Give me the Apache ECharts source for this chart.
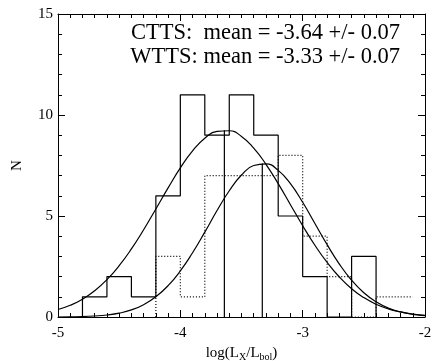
<!DOCTYPE html>
<html>
<head>
<meta charset="utf-8">
<script src="https://cdn.jsdelivr.net/npm/echarts@6/dist/echarts.min.js"></script>
<style>
  html, body { margin: 0; padding: 0; background: #fff; }
  #hist-chart { width: 432px; height: 361px; }
</style>
</head>
<body>
<div id="hist-chart"></div>
<script>
// histogram bin edges and counts
var cttsEdges = [-4.8, -4.6, -4.4, -4.2, -4.0, -3.8, -3.6, -3.4, -3.2, -3.0, -2.8, -2.6, -2.4]
var cttsCounts = [1, 2, 1, 6, 11, 9, 11, 9, 5, 2, 0, 3]
var wttsEdges = [-4.2, -4.0, -3.8, -3.6, -3.4, -3.2, -3.0, -2.8, -2.6, -2.4, -2.1]
var wttsCounts = [3, 1, 7, 7, 7, 8, 4, 2, 0, 1]

// gaussian curves, sampled every 0.1 along x
var curveX = [-5.0, -4.9, -4.8, -4.7, -4.6, -4.5, -4.4, -4.3, -4.2, -4.1, -4.0,
  -3.9, -3.8, -3.7, -3.6, -3.5, -3.4, -3.3, -3.2, -3.1, -3.0,
  -2.9, -2.8, -2.7, -2.6, -2.5, -2.4, -2.3, -2.2, -2.1, -2.0]
var cttsCurve = [0.37, 0.58, 0.88, 1.30, 1.85, 2.54, 3.37, 4.32, 5.35, 6.39, 7.38,
  8.22, 8.85, 9.19, 9.22, 8.94, 8.36, 7.56, 6.60, 5.56, 4.52,
  3.55, 2.70, 1.98, 1.40, 0.96, 0.63, 0.40, 0.25, 0.15, 0.08]
var wttsCurve = [0.00, 0.01, 0.02, 0.05, 0.10, 0.19, 0.35, 0.61, 1.00, 1.55, 2.28,
  3.18, 4.20, 5.27, 6.25, 7.03, 7.50, 7.58, 7.26, 6.60, 5.68,
  4.63, 3.58, 2.62, 1.82, 1.20, 0.75, 0.44, 0.25, 0.13, 0.07]

// mean markers
var cttsMean = -3.64
var cttsMeanTop = 9.25
var wttsMean = -3.33
var wttsMeanTop = 7.6

var xTicks = [-5, -4, -3, -2]
var yTicks = [0, 5, 10, 15]

function stepPath (edges, counts, closeEnd) {
  var pts = [[edges[0], 0]]
  for (var i = 0; i < counts.length; i++) {
    pts.push([edges[i], counts[i]])
    pts.push([edges[i + 1], counts[i]])
  }
  if (closeEnd) pts.push([edges[edges.length - 1], 0])
  return pts
}

function zipXY (xs, ys) {
  return xs.map(function (x, i) { return [x, ys[i]] })
}

var FONT = 'Liberation Serif'

// IDL-style box: ticks point into the plot on all four sides
function axisLine () {
  return { show: true, onZero: false, lineStyle: { color: '#000', width: 1 } }
}
function tickStyle () {
  return { show: true, inside: true, length: 7, lineStyle: { color: '#000' } }
}
function minorStyle (n) {
  return { show: true, splitNumber: n, length: 4, lineStyle: { color: '#000' } }
}

var myChart = echarts.init(document.getElementById('hist-chart'))

var lineBase = {
  type: 'line',
  symbol: 'none',
  silent: true,
  animation: false
}

var option = {
  animation: false,
  grid: { left: 58, right: 7, top: 14, bottom: 44, outerBoundsMode: 'none', containLabel: false },
  xAxis: [{
    type: 'value',
    min: xTicks[0],
    max: xTicks[xTicks.length - 1],
    interval: 1,
    position: 'bottom',
    axisLine: axisLine(),
    axisTick: tickStyle(),
    minorTick: minorStyle(10),
    splitLine: { show: false },
    axisLabel: { color: '#000', fontFamily: FONT, fontSize: 15, margin: 9 },
    name: '{a|log(L}{s|X}{a|/L}{s|bol}{a|)}',
    nameLocation: 'middle',
    nameGap: 24,
    nameTextStyle: {
      rich: {
        a: { fontFamily: FONT, fontSize: 15, color: '#000' },
        s: { fontFamily: FONT, fontSize: 10, color: '#000', padding: [8, 0, 0, 0] }
      }
    }
  }, {
    type: 'value',
    min: xTicks[0],
    max: xTicks[xTicks.length - 1],
    interval: 1,
    position: 'top',
    axisLine: axisLine(),
    axisTick: tickStyle(),
    minorTick: minorStyle(10),
    splitLine: { show: false },
    axisLabel: { show: false }
  }],
  yAxis: [{
    type: 'value',
    min: yTicks[0],
    max: yTicks[yTicks.length - 1],
    interval: 5,
    position: 'left',
    axisLine: axisLine(),
    axisTick: tickStyle(),
    minorTick: minorStyle(5),
    splitLine: { show: false },
    axisLabel: { color: '#000', fontFamily: FONT, fontSize: 15, margin: 5 },
    name: 'N',
    nameLocation: 'middle',
    nameGap: 33,
    nameTextStyle: { color: '#000', fontFamily: FONT, fontSize: 15 }
  }, {
    type: 'value',
    min: yTicks[0],
    max: yTicks[yTicks.length - 1],
    interval: 5,
    position: 'right',
    axisLine: axisLine(),
    axisTick: tickStyle(),
    minorTick: minorStyle(5),
    splitLine: { show: false },
    axisLabel: { show: false }
  }],
  graphic: [{
    type: 'text',
    right: 32,
    top: 21,
    style: {
      text: 'CTTS:  mean = -3.64 +/- 0.07\nWTTS: mean = -3.33 +/- 0.07',
      font: '22.5px "Liberation Serif"',
      fill: '#000',
      textAlign: 'right',
      lineHeight: 24
    }
  }],
  series: [
    Object.assign({}, lineBase, {
      name: 'CTTS',
      data: stepPath(cttsEdges, cttsCounts, true),
      lineStyle: { color: '#000', width: 1.2 }
    }),
    Object.assign({}, lineBase, {
      name: 'WTTS',
      data: stepPath(wttsEdges, wttsCounts, false),
      lineStyle: { color: '#000', width: 1.2, type: [1, 2] }
    }),
    Object.assign({}, lineBase, {
      name: 'CTTS fit',
      smooth: true,
      data: zipXY(curveX, cttsCurve),
      lineStyle: { color: '#000', width: 1.2 }
    }),
    Object.assign({}, lineBase, {
      name: 'WTTS fit',
      smooth: true,
      data: zipXY(curveX, wttsCurve),
      lineStyle: { color: '#000', width: 1.2 }
    }),
    Object.assign({}, lineBase, {
      name: 'CTTS mean',
      data: [[cttsMean, 0], [cttsMean, cttsMeanTop]],
      lineStyle: { color: '#000', width: 1.2 }
    }),
    Object.assign({}, lineBase, {
      name: 'WTTS mean',
      data: [[wttsMean, 0], [wttsMean, wttsMeanTop]],
      lineStyle: { color: '#000', width: 1.2 }
    })
  ]
}

myChart.setOption(option)
</script>
</body>
</html>
